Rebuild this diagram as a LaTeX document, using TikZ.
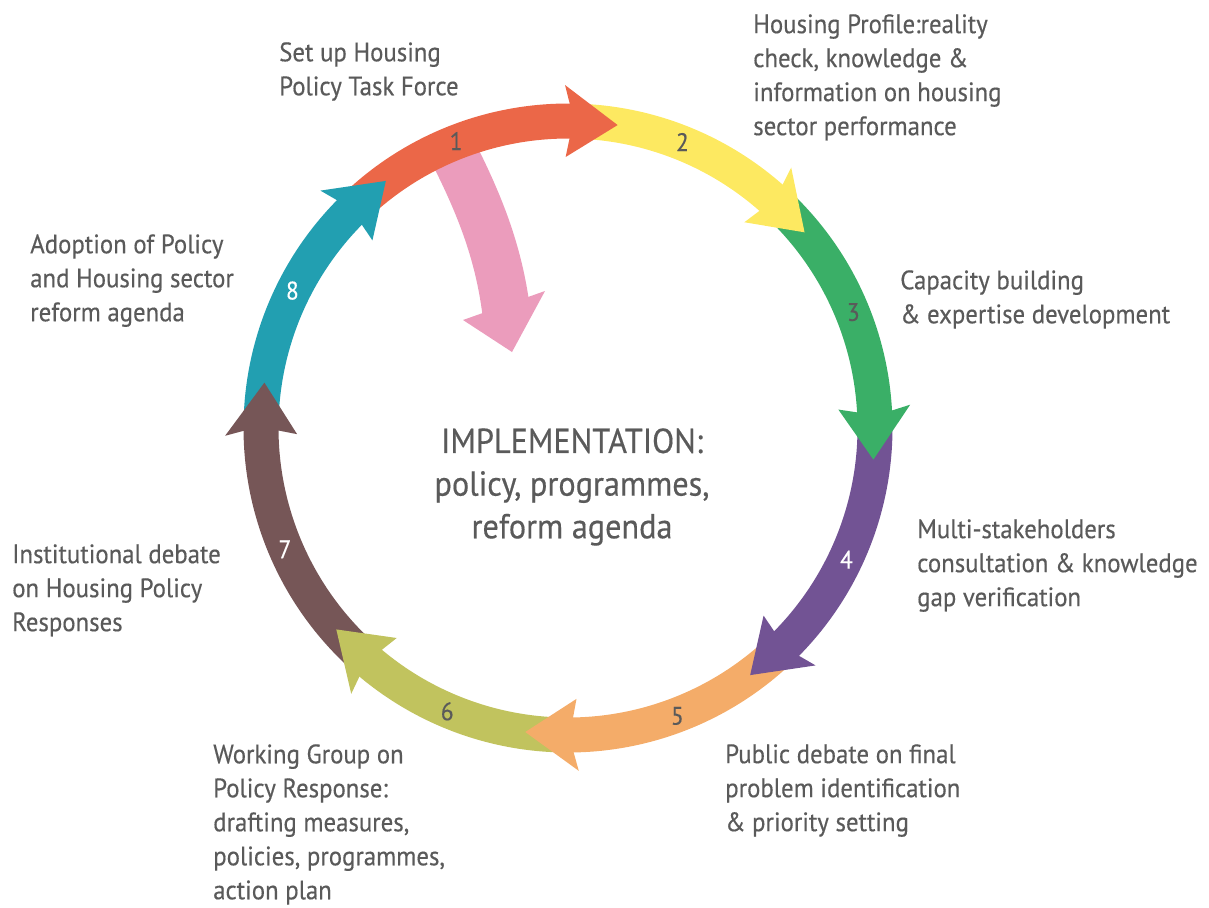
\documentclass[tikz,border=0pt]{standalone}
\usepackage{fontspec}
\setmainfont{PT Sans}[FakeStretch=0.93,FakeBold=0.4]
\definecolor{StepRed}{RGB}{235,103,72}
\definecolor{StepYellow}{RGB}{253,233,97}
\definecolor{StepGreen}{RGB}{58,175,103}
\definecolor{StepPurple}{RGB}{114,83,148}
\definecolor{StepOrange}{RGB}{244,172,105}
\definecolor{StepOlive}{RGB}{193,195,94}
\definecolor{StepBrown}{RGB}{118,86,87}
\definecolor{StepTeal}{RGB}{34,159,177}
\definecolor{StepPink}{RGB}{235,156,188}
\definecolor{TextGray}{RGB}{90,90,90}
\tikzset{
  steptext/.style={anchor=north west,align=left,inner sep=0pt,text=TextGray,
    font=\fontsize{20}{25.5}\selectfont},
  stepnum/.style={inner sep=0pt,font=\fontsize{19}{19}\selectfont},
}
\begin{document}
\begin{tikzpicture}[x=0.75pt,y=-0.75pt]
  \useasboundingbox (0,0) rectangle (1209,907);
  \draw[StepPink,line width=36pt] (452,150) .. controls (480,205) and (500,255) .. (507,318);
  \fill[StepPink] (463,320) -- (545,291) -- (512,352) -- cycle;
  \begin{scope}[shift={(568,428)},yscale=-1]
    \foreach \c/\s/\t in {StepRed/133.4/80.7,StepYellow/87.7/39.6,StepGreen/46.6/-5.9,
        StepPurple/1.1/-53.6,StepOrange/-46.6/-98,StepOlive/-91/-139,
        StepBrown/-132/-188.5,StepTeal/-181.5/-233.6}
      \draw[\c,line width=26.25pt] (\s:307) arc[start angle=\s,end angle=\t+7,radius=307];
    \foreach \c/\t [evaluate=\t as \b using \t+9, evaluate=\t as \bb using \t+9.8] in
        {StepRed/80.7,StepYellow/39.6,StepGreen/-5.9,StepPurple/-53.6,
        StepOrange/-98,StepOlive/-139,StepBrown/-188.5,StepTeal/-233.6}
      \fill[\c] (\b:324.5) -- (\bb:343) -- (\t:307) -- (\bb:271) -- (\b:289.5) -- cycle;
    \foreach \i/\a/\tc in {1/111.3/TextGray,2/68.2/TextGray,3/22.1/TextGray,4/-25.3/white,
        5/-69.2/TextGray,6/-113.1/TextGray,7/-156.8/white,8/153.5/white}
      \node[stepnum,text=\tc] (n\i) at (\a:308) {\i};
  \end{scope}
  \node[steptext] (taskforce) at (279,42) {Set up Housing\\Policy Task Force};
  \node[steptext] (profile) at (753,14) {Housing Profile:reality\\check, knowledge \&\\information on housing\\sector performance};
  \node[steptext] (capacity) at (900,270) {Capacity building\\\& expertise development};
  \node[steptext] (consult) at (917,519) {Multi-stakeholders\\consultation \& knowledge\\gap verification};
  \node[steptext] (public) at (725,744) {Public debate on final\\problem identification\\\& priority setting};
  \node[steptext] (working) at (213,744) {Working Group on\\Policy Response:\\drafting measures,\\policies, programmes,\\action plan};
  \node[steptext] (institution) at (12,544) {Institutional debate\\on Housing Policy\\Responses};
  \node[steptext] (adoption) at (30,234) {Adoption of Policy\\and Housing sector\\reform agenda};
  \node[anchor=north,align=center,inner sep=0pt,text=TextGray,
    font=\fontsize{26}{32}\selectfont] (implement) at (572,428)
    {IMPLEMENTATION:\\policy, programmes,\\reform agenda};
\end{tikzpicture}
\end{document}
